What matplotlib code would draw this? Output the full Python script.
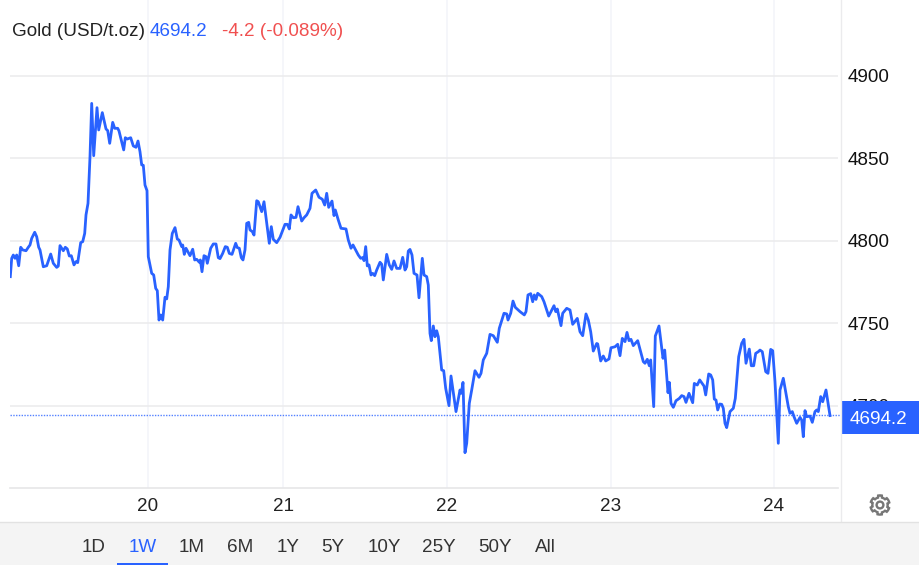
import numpy as np
import matplotlib
matplotlib.use('Agg')
import matplotlib.pyplot as plt
from matplotlib.patches import Rectangle, Polygon, Circle

plt.rcParams['font.family'] = ['Liberation Sans', 'DejaVu Sans']

#--------------- data -----------------------#
# chart position of each quote (the time axis is not linear, so day ticks are unevenly spaced)
pos = [10.3,11.7,13.3,15.0,16.7,18.7,20.7,22.7,26.0,28.3,30.0,31.7,34.7,36.7,38.7,40.0,43.3,46.7,50.7,53.3,
       56.7,58.3,60.0,63.3,65.3,67.3,69.3,71.3,74.0,76.0,77.7,80.7,82.7,84.7,86.0,88.0,90.0,91.7,93.7,97.0,
       98.7,102.3,106.0,107.7,109.7,112.7,114.7,117.7,119.0,123.7,125.3,127.3,130.7,133.3,136.0,138.0,140.0,141.7,143.3,145.0,
       147.0,148.3,151.7,153.7,155.7,157.3,159.0,160.7,162.7,165.0,166.7,168.3,170.0,172.3,175.0,177.3,179.0,181.7,182.7,184.3,
       186.0,190.0,192.7,194.7,196.7,199.3,200.3,202.0,204.0,206.0,207.3,210.7,213.3,216.0,218.3,220.0,222.7,225.3,227.3,229.3,
       232.0,235.7,237.3,239.3,241.3,243.0,245.0,246.7,248.7,250.0,252.3,254.0,256.7,258.3,261.7,264.0,266.7,269.3,271.3,273.3,
       276.7,280.0,285.0,287.3,289.3,291.0,293.3,296.0,298.0,301.7,304.0,306.7,310.0,312.0,315.7,319.0,322.3,324.7,326.7,328.7,
       332.0,334.0,335.3,338.3,341.0,346.0,348.3,351.0,353.0,358.3,360.7,363.3,364.0,365.7,367.3,369.0,371.0,372.7,374.7,376.7,
       380.0,381.7,383.3,386.7,389.3,391.7,394.0,396.7,400.0,402.7,405.0,406.7,408.3,410.0,412.0,414.0,417.0,419.0,422.3,424.0,
       426.7,428.3,430.0,431.3,433.3,435.0,436.7,438.3,441.7,443.7,445.7,449.0,451.0,456.0,460.0,461.3,463.0,465.0,466.7,469.3,
       471.7,475.0,479.0,481.0,483.3,486.7,490.0,493.3,497.3,499.3,504.0,506.7,508.0,510.7,513.0,515.3,520.0,524.3,526.0,528.0,
       530.7,532.7,534.3,536.0,537.7,541.7,544.0,548.7,554.0,555.7,557.3,561.0,562.7,566.7,570.0,572.7,577.3,580.0,582.7,586.0,
       588.3,590.7,593.3,596.7,597.7,600.7,603.3,605.7,609.0,611.0,615.0,617.7,620.0,622.3,625.0,627.0,629.0,631.0,633.3,637.7,
       643.3,645.0,647.3,649.3,650.7,653.7,655.3,659.0,663.0,664.7,668.0,669.3,671.0,673.3,676.0,679.3,681.7,684.0,686.0,689.0,
       692.7,694.3,697.3,699.7,704.0,705.7,708.7,710.7,712.7,714.3,716.0,717.7,719.7,721.7,723.3,725.0,726.7,730.0,733.3,735.3,
       738.7,741.7,744.0,746.0,749.3,751.3,753.7,755.7,758.3,760.0,762.3,765.7,768.0,770.7,772.7,775.0,778.3,780.0,783.3,788.3,
       790.0,792.3,794.0,796.7,800.0,801.7,803.3,805.0,806.7,810.0,812.3,815.0,816.7,818.3,820.7,822.7,826.0,830.0]
price = [4778.4,4789.5,4791.5,4789.5,4791.5,4785.0,4796.2,4794.6,4794.1,4796.2,4797.6,4801.6,4805.3,4802.6,4796.2,4794.6,4784.4,4785.0,4792.1,4786.5,
         4784.0,4784.8,4797.2,4794.1,4796.2,4795.2,4790.9,4791.1,4785.5,4787.5,4786.9,4799.0,4799.6,4804.6,4815.8,4822.8,4851.1,4883.4,4851.7,4880.8,
         4867.3,4877.8,4867.9,4866.9,4859.2,4871.9,4868.3,4868.3,4866.7,4855.2,4862.6,4861.8,4862.6,4857.6,4856.8,4860.6,4854.1,4846.1,4845.9,4833.9,
         4830.5,4790.5,4780.4,4779.4,4771.3,4769.9,4752.1,4755.2,4752.1,4765.9,4764.9,4772.3,4794.6,4804.6,4808.1,4801.2,4800.6,4796.6,4797.6,4791.9,
         4795.6,4791.1,4795.0,4788.5,4788.9,4787.1,4788.5,4781.4,4791.1,4790.5,4786.5,4795.6,4798.2,4798.2,4789.9,4789.3,4792.5,4796.6,4796.2,4792.5,
         4791.9,4798.6,4796.0,4795.6,4789.9,4788.5,4794.6,4810.7,4811.3,4806.7,4805.7,4803.6,4824.4,4823.8,4817.8,4823.8,4810.7,4798.6,4808.7,4801.0,
         4799.0,4802.2,4810.1,4810.1,4807.3,4815.8,4814.1,4814.3,4820.8,4812.1,4814.1,4815.8,4819.8,4828.9,4830.9,4826.5,4825.3,4821.8,4828.9,4820.4,
         4824.2,4815.4,4818.8,4812.7,4807.7,4807.3,4800.6,4795.6,4797.6,4791.5,4789.5,4790.1,4788.1,4796.6,4784.9,4785.5,4779.4,4780.4,4779.0,4782.4,
         4787.1,4785.9,4776.4,4791.9,4785.5,4782.8,4787.9,4783.4,4783.4,4790.1,4782.4,4784.4,4793.9,4794.9,4791.5,4780.4,4779.4,4765.6,4789.5,4779.4,
         4778.4,4773.3,4744.0,4739.6,4748.5,4742.0,4745.6,4742.0,4721.8,4721.4,4710.7,4700.2,4718.2,4696.6,4709.7,4707.7,4714.3,4671.7,4677.4,4701.6,
         4709.7,4721.4,4717.4,4719.8,4727.9,4731.9,4743.4,4742.6,4738.6,4747.1,4756.2,4755.8,4752.1,4756.2,4763.6,4759.8,4757.2,4755.2,4757.2,4767.3,
         4768.1,4763.2,4767.3,4764.6,4768.3,4766.3,4763.2,4754.5,4760.8,4757.2,4758.8,4748.7,4756.2,4759.2,4758.2,4749.5,4753.1,4745.0,4742.6,4755.8,
         4752.1,4745.0,4733.3,4737.9,4737.6,4727.3,4730.3,4727.3,4728.5,4735.3,4735.9,4737.4,4730.5,4741.0,4739.0,4744.6,4739.6,4740.4,4736.6,4739.6,
         4726.9,4725.9,4728.3,4724.4,4727.9,4699.6,4742.4,4748.5,4728.9,4733.9,4708.1,4714.3,4701.6,4699.2,4703.2,4704.6,4706.3,4705.7,4702.2,4707.7,
         4702.0,4713.7,4712.7,4715.8,4712.1,4706.7,4719.4,4718.8,4715.8,4704.2,4703.6,4697.6,4701.2,4701.0,4698.6,4689.5,4686.9,4696.6,4698.6,4704.6,
         4729.9,4738.0,4740.4,4725.9,4734.5,4724.4,4724.4,4731.9,4732.9,4733.9,4732.9,4720.8,4719.8,4734.3,4733.5,4714.7,4677.4,4709.7,4716.8,4699.6,
         4695.6,4696.6,4693.5,4689.5,4693.1,4691.5,4681.4,4697.2,4693.5,4693.9,4690.1,4696.6,4697.6,4696.6,4705.7,4702.6,4709.7,4694.2]
last_price = 4694.2
y_ticks = [4700, 4750, 4800, 4850, 4900]
day_pos = [148, 283, 447, 611, 774]
day_labels = ['20', '21', '22', '23', '24']
ranges = ['1D', '1W', '1M', '6M', '1Y', '5Y', '10Y', '25Y', '50Y', 'All']
range_x = [94, 143, 192, 240, 288, 333, 384, 439, 495, 545]

BLUE = '#2962ff'
W, H = 919, 565
FS = 13.6

#--------------- main chart -----------------#
fig = plt.figure(figsize=(W/100, H/100), dpi=100)
ax = fig.add_axes([10/W, (H-488)/H, 830/W, 488/H])
ax.set_xlim(10, 840)
ax.set_ylim(4900-(488-76)/1.65, 4900+76/1.65)
for s in ax.spines.values():
    s.set_visible(False)

ax.hlines(y_ticks, 10, 838, color='#ececed', lw=1.2, zorder=1)
ax.vlines(day_pos, ax.get_ylim()[0], ax.get_ylim()[1], color='#f3f5f9', lw=1.2, zorder=0)
ax.plot(pos, price, color=BLUE, lw=2.0, solid_joinstyle='round', zorder=3)
ax.axhline(last_price + 0.4, color=BLUE, lw=1.0, ls=(0, (1, 1)), alpha=0.8, zorder=2)

ax.yaxis.tick_right()
ax.set_yticks(y_ticks)
ax.set_xticks(day_pos)
ax.set_xticklabels(day_labels)
ax.tick_params(axis='y', length=0, pad=5.5, labelsize=FS, labelcolor='#111111')
ax.tick_params(axis='x', length=0, pad=7.5, labelsize=FS, labelcolor='#222222')

#--------------- page furniture (pixel coords) -----------------#
ov = fig.add_axes([0, 0, 1, 1], zorder=5)
ov.set_xlim(0, W)
ov.set_ylim(H, 0)
ov.axis('off')
ov.patch.set_alpha(0)

ov.plot([10, 838], [488, 488], color='#e6e6e8', lw=1.2)
ov.plot([841, 841], [0, 521], color='#ebebed', lw=1.0)
ov.add_patch(Rectangle((0, 522), W, 43, fc='#f4f4f4', ec='none'))
ov.plot([0, W], [522, 522], color='#e2e2e2', lw=1.0)

# last price box
ov.add_patch(Rectangle((841, 401), 78, 33, fc=BLUE, ec='none'))
ov.text(879, 419, '4694.2', color='white', fontsize=FS, ha='center', va='center')

# header
ov.text(12, 31.5, 'Gold (USD/t.oz)', color='#222222', fontsize=FS, va='center')
ov.text(149.5, 31.5, '4694.2', color=BLUE, fontsize=FS, va='center')
ov.text(222, 31.5, '-4.2 (-0.089%)', color='#f05050', fontsize=FS, va='center')

# range buttons
for lab, x in zip(ranges, range_x):
    ov.text(x, 547.5, lab, color=BLUE if lab == '1W' else '#333333', fontsize=FS, ha='center', va='center')
ov.add_patch(Rectangle((117, 563), 51, 2, fc=BLUE, ec='none'))

# settings gear
ang = np.linspace(0, 2*np.pi, 97)[:-1]
rad = 9.6 - 2.0*(np.cos(6*(ang+np.pi/6)) < 0)
ov.add_patch(Polygon(np.c_[880+rad*np.cos(ang), 505+rad*np.sin(ang)], fc='white', ec='#777777', lw=1.7))
ov.add_patch(Circle((880, 505), 3.4, fc='white', ec='#777777', lw=1.7))

plt.savefig('out.png', dpi=100)
